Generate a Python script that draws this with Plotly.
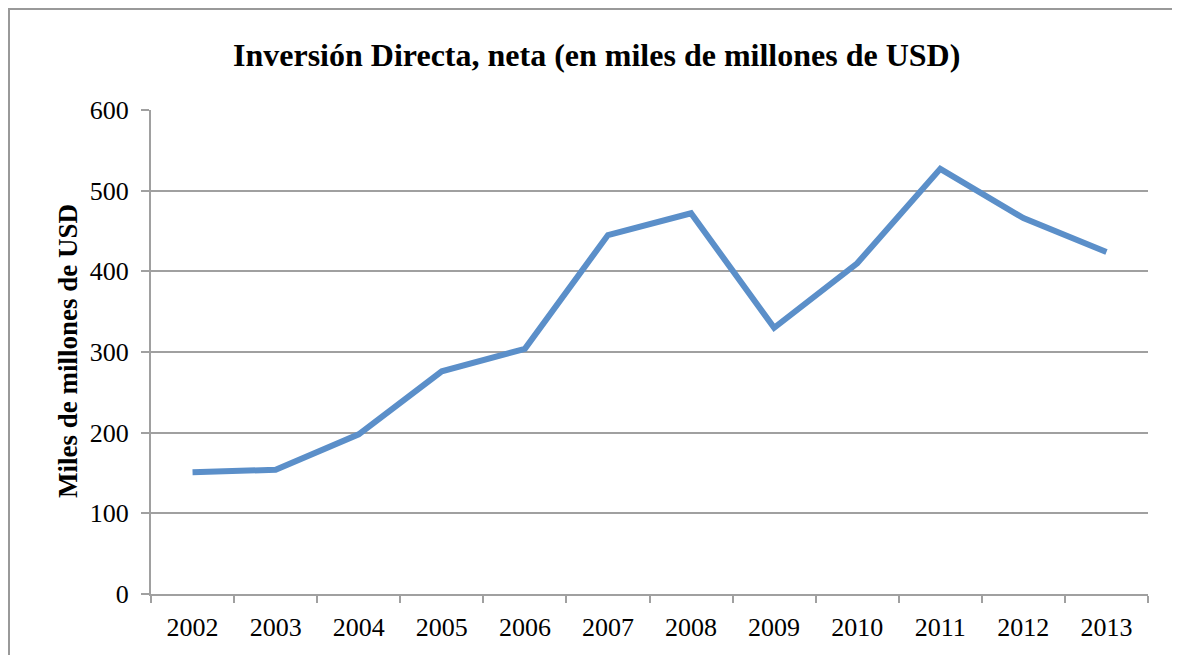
import plotly.graph_objects as go

years = ['2002', '2003', '2004', '2005', '2006', '2007',
         '2008', '2009', '2010', '2011', '2012', '2013']
inversion = [151, 154, 198, 276, 304, 445, 472, 330, 410, 527, 466, 424]

# the page body adds an 8px margin, so work in picture pixels minus 8
off = 8
W, H = 1180 - off, 655 - off
ml, mt = 151 - off, 110 - off
mr, mb = 32, H - (594 - off)
pw, ph = W - ml - mr, H - mt - mb

serif = 'Liberation Serif, Times New Roman, serif'
grey = '#a0a0a0'

fig = go.Figure()
fig.add_scatter(x=years, y=inversion, mode='lines',
                line=dict(color='#5b8fc9', width=6), showlegend=False)

fig.update_layout(
    width=W, height=H,
    margin=dict(l=ml, r=mr, t=mt, b=mb),
    paper_bgcolor='white', plot_bgcolor='white',
    font=dict(family=serif, size=26, color='black'),
    xaxis=dict(type='category', range=[-0.5, 11.5], showgrid=False,
               showline=True, linecolor=grey, linewidth=2, ticks='outside',
               tickson='boundaries', ticklen=7, tickcolor=grey, tickwidth=2,
               ticklabelstandoff=9, tickfont=dict(family=serif, size=26)),
    yaxis=dict(range=[0, 600], dtick=100, showgrid=True, gridcolor=grey,
               gridwidth=2, showline=True, linecolor=grey, linewidth=2,
               ticks='outside', ticklen=8, tickcolor=grey, tickwidth=2,
               ticklabelstandoff=7, zeroline=False,
               tickfont=dict(family=serif, size=26)),
)

fig.add_annotation(text='<b>Inversión Directa, neta (en miles de millones de USD)</b>',
                   xref='paper', yref='paper', x=(596 - off - ml) / pw,
                   y=1 + (mt - (55 - off)) / ph,
                   xanchor='center', yanchor='middle', showarrow=False,
                   font=dict(family=serif, size=32, color='black'))
fig.add_annotation(text='<b>Miles de millones de USD</b>', textangle=-90,
                   xref='paper', yref='paper', x=(68 - off - ml) / pw,
                   y=1 - (351 - off - mt) / ph,
                   xanchor='center', yanchor='middle', showarrow=False,
                   font=dict(family=serif, size=27, color='black'))

# outer chart frame (right and bottom edges fall outside the picture)
fig.add_shape(type='rect', xref='paper', yref='paper',
              x0=(1 - ml) / pw, x1=(W + 10 - ml) / pw,
              y0=-(mb + 10) / ph, y1=1 + (mt - 1) / ph,
              line=dict(color='#999999', width=2), layer='below')

fig.write_html('out.html')
